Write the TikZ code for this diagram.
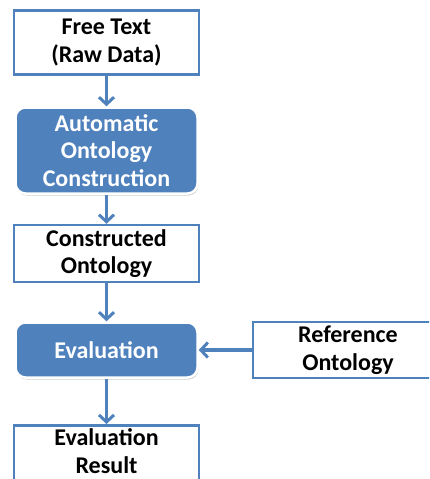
\documentclass[tikz,border=0pt]{standalone}
\usepackage{fontspec}
\setmainfont{Carlito}
\usetikzlibrary{arrows.meta,shadows}
\definecolor{officeblue}{HTML}{4F81BD}

\begin{document}
\begin{tikzpicture}[x=1pt,y=-1pt,
	boxtext/.style={align=center, font=\fontsize{24}{27.5}\selectfont\bfseries, inner sep=0pt},
	plainbox/.style={draw=officeblue, line width=2.5pt, fill=white, boxtext},
	stagebox/.style={draw=white, line width=2.5pt, fill=officeblue, rounded corners=10pt,
		text=white, boxtext,
		drop shadow={opacity=0.35, shadow xshift=1pt, shadow yshift=-2pt}},
	flow/.style={draw=officeblue, line width=3.2pt, -{Straight Barb[length=7pt,width=15pt,line width=3pt]}}]
	%%%%% frame %%%%%
	\def\wbox{185}
	\def\wstage{182}
	\def\xmid{106.5}
	\useasboundingbox (0,0) rectangle (429,479);
	\clip (0,0) rectangle (429,479);

	\node[plainbox, minimum width=\wbox, minimum height=64] (free) at (\xmid,42.5) {Free Text\\(Raw Data)};
	\node[stagebox, minimum width=\wstage, minimum height=86] (auto) at (\xmid,150.5) {Automatic\\Ontology\\Construction};
	\node[plainbox, minimum width=\wbox, minimum height=57] (built) at (\xmid,253.5) {Constructed\\Ontology};
	\node[stagebox, minimum width=\wstage, minimum height=55] (eval) at (\xmid,350) {Evaluation};
	\node[plainbox, minimum width=\wbox, minimum height=70, anchor=north,
		label={[boxtext, yshift=9pt]center:Evaluation\\Result}] (result) at (\xmid,424) {};
	\node[plainbox, minimum width=190, minimum height=56] (ref) at (348,350) {Reference\\Ontology};

	% arrows
	\draw[flow] (free) -- (auto);
	\draw[flow] (auto) -- (built);
	\draw[flow] (built) -- (eval);
	\draw[flow] (eval) -- (result);
	\draw[flow] (ref) -- (eval);
	%%%%% end %%%%%
\end{tikzpicture}
\end{document}
